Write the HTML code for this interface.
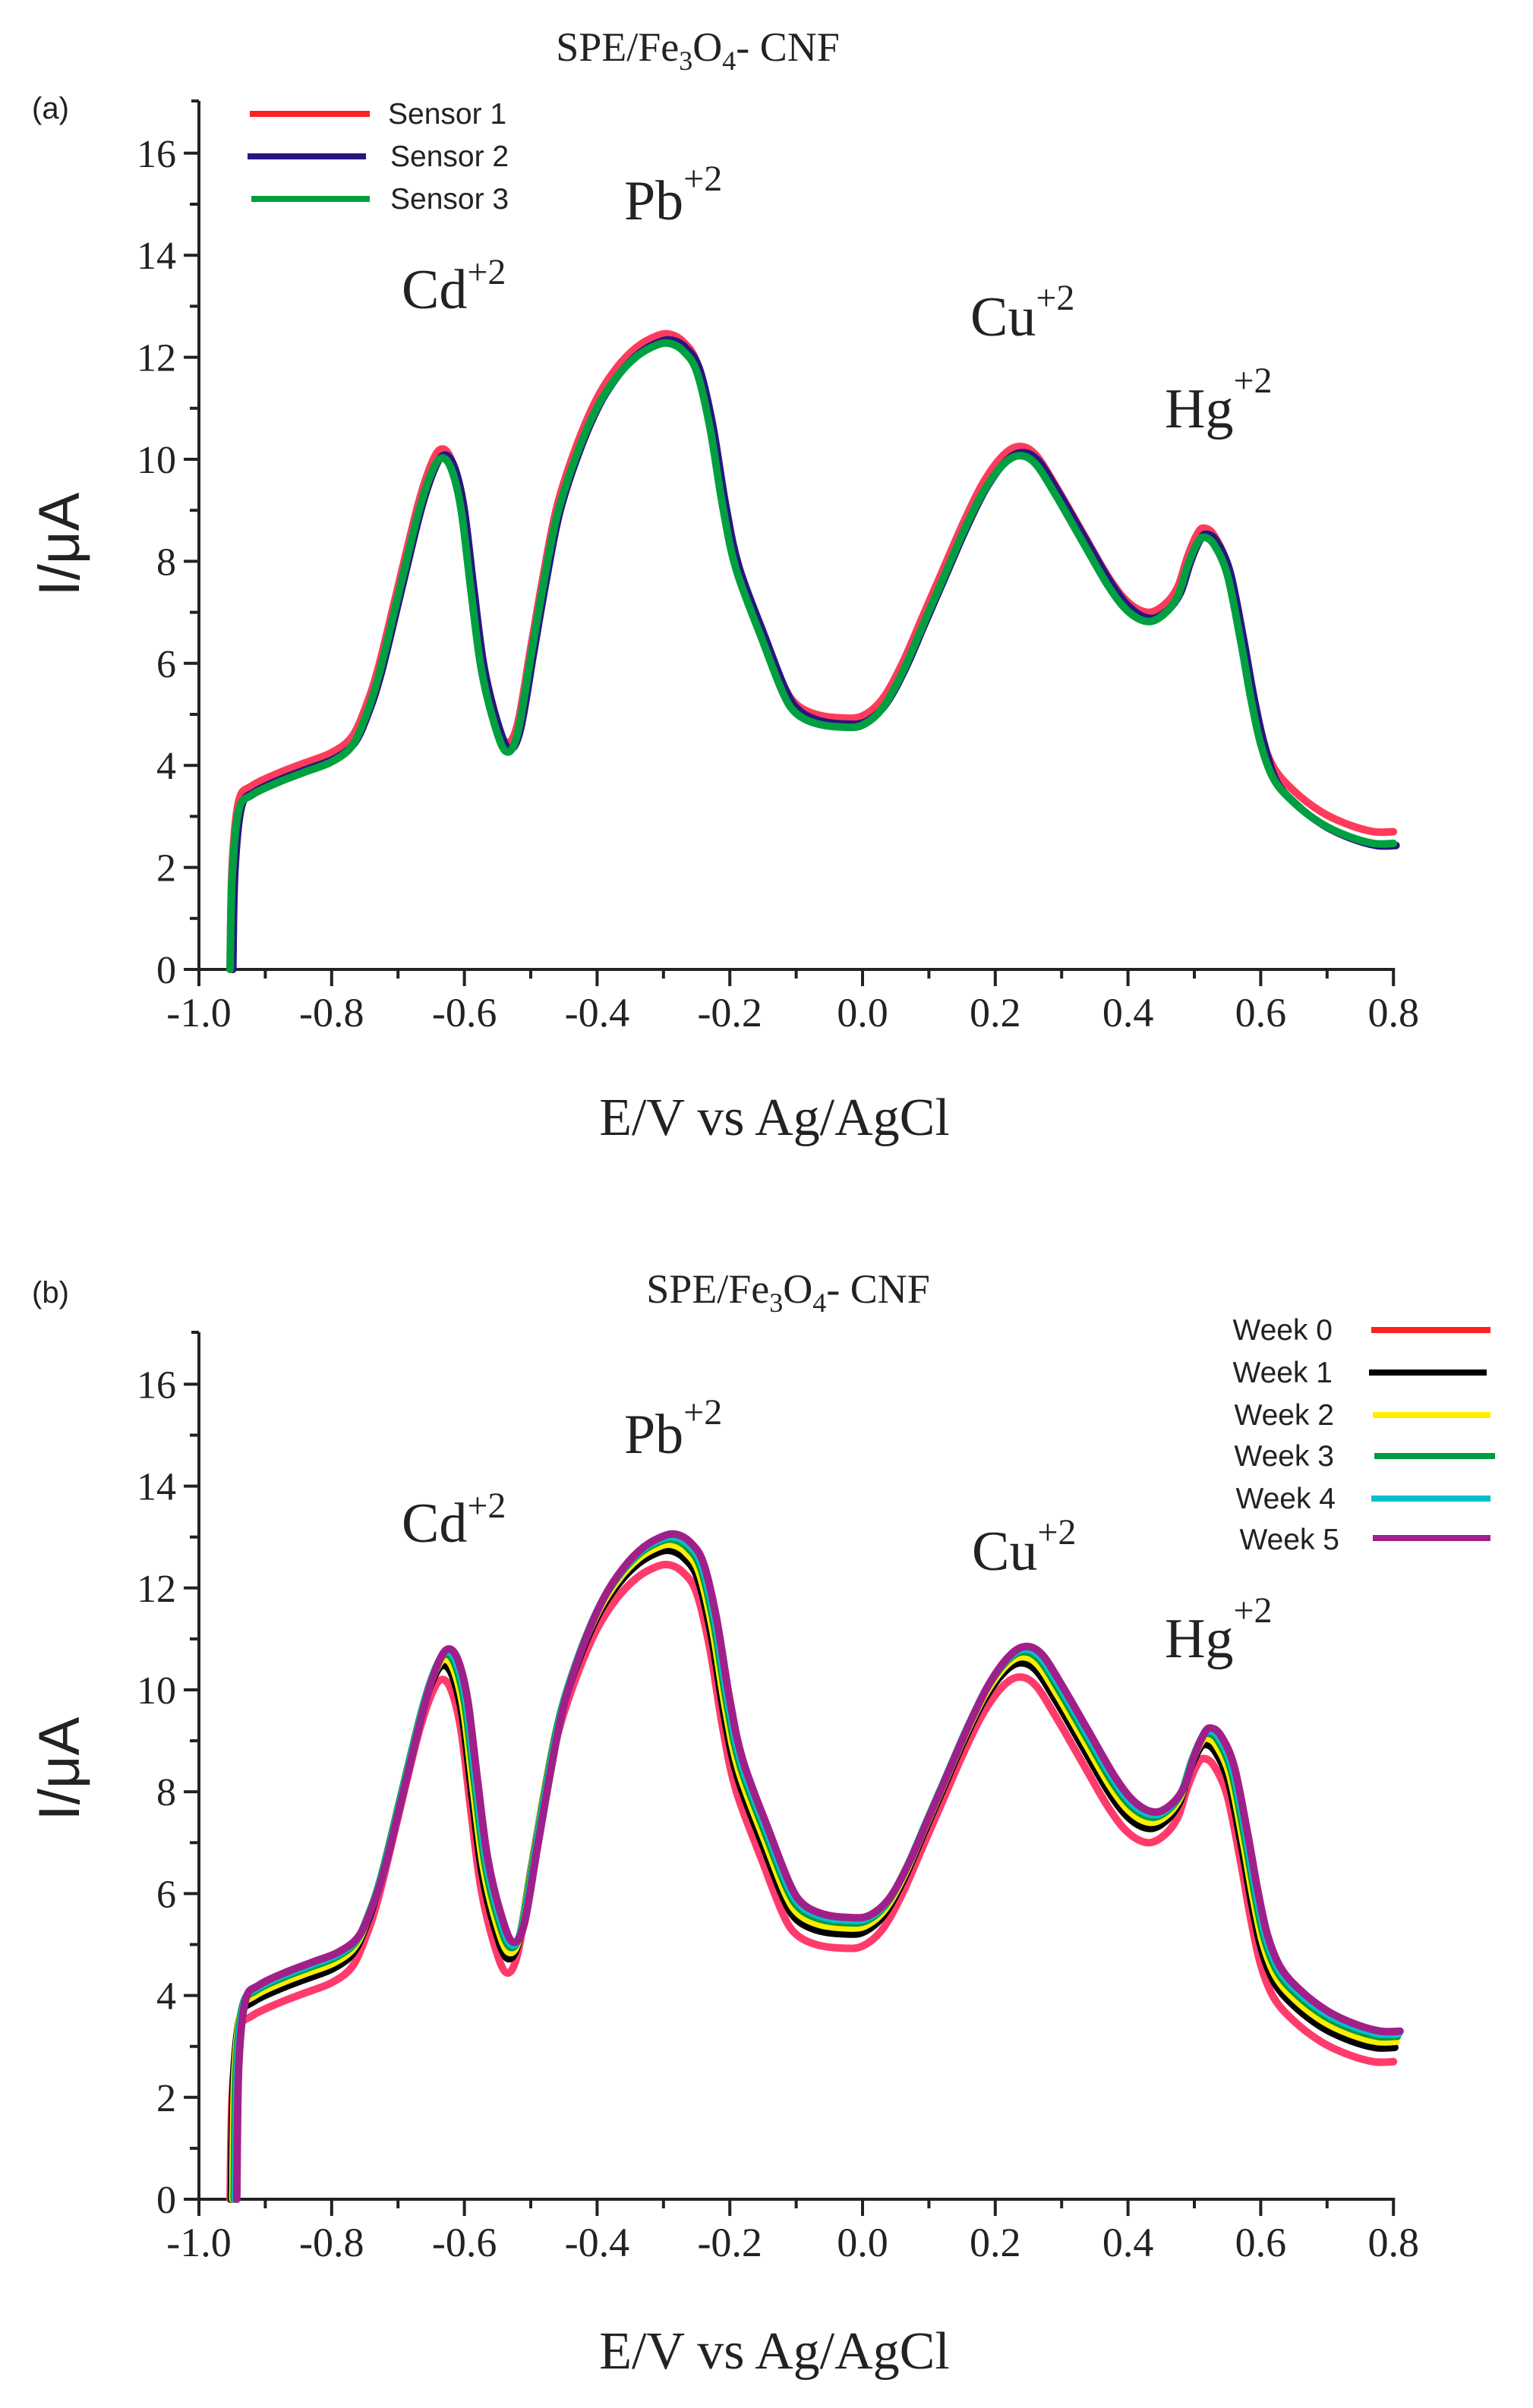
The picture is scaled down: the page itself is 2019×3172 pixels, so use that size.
<!DOCTYPE html>
<html><head><meta charset="utf-8"><style>
html,body{margin:0;padding:0;background:#fff}
svg{display:block}
.serif{font-family:"Liberation Serif",serif;fill:#222}
.sans{font-family:"Liberation Sans",sans-serif;fill:#222}
</style></head><body>
<svg id="s" width="2019" height="3172" viewBox="0 0 2019 3172" xmlns="http://www.w3.org/2000/svg">
<rect width="2019" height="3172" fill="#fff"/>
<!-- Panel a texts -->
<text class="serif" x="919" y="80" font-size="54" text-anchor="middle">SPE/Fe<tspan font-size="36" dy="12">3</tspan><tspan dy="-12">O</tspan><tspan font-size="36" dy="12">4</tspan><tspan dy="-12">- CNF</tspan></text>
<text class="sans" x="42" y="156" font-size="40">(a)</text>
<text class="serif" x="1020" y="1495" font-size="70" text-anchor="middle">E/V vs Ag/AgCl</text>
<text class="sans" x="0" y="0" font-size="76" text-anchor="middle" transform="translate(104,717) rotate(-90)">I/μA</text>
<text class="serif" x="529" y="406" font-size="74">Cd<tspan font-size="48" dy="-32">+2</tspan></text>
<text class="serif" x="822" y="289" font-size="74">Pb<tspan font-size="48" dy="-38">+2</tspan></text>
<text class="serif" x="1278" y="442" font-size="74">Cu<tspan font-size="48" dy="-34">+2</tspan></text>
<text class="serif" x="1534" y="563" font-size="74">Hg<tspan font-size="48" dy="-46">+2</tspan></text>
<!-- legend a -->
<line x1="329" y1="150" x2="487" y2="150" stroke="#ff2020" stroke-width="8"/>
<line x1="326" y1="206" x2="482" y2="206" stroke="#2a1580" stroke-width="8"/>
<line x1="331" y1="262" x2="487" y2="262" stroke="#00a040" stroke-width="8"/>
<text class="sans" x="511" y="163" font-size="39">Sensor 1</text>
<text class="sans" x="514" y="219" font-size="39">Sensor 2</text>
<text class="sans" x="514" y="275" font-size="39">Sensor 3</text>

<!-- Panel b texts -->
<text class="serif" x="1038" y="1716" font-size="54" text-anchor="middle">SPE/Fe<tspan font-size="36" dy="12">3</tspan><tspan dy="-12">O</tspan><tspan font-size="36" dy="12">4</tspan><tspan dy="-12">- CNF</tspan></text>
<text class="sans" x="42" y="1716" font-size="40">(b)</text>
<text class="serif" x="1020" y="3120" font-size="70" text-anchor="middle">E/V vs Ag/AgCl</text>
<text class="sans" x="0" y="0" font-size="76" text-anchor="middle" transform="translate(104,2330) rotate(-90)">I/μA</text>
<text class="serif" x="529" y="2031" font-size="74">Cd<tspan font-size="48" dy="-32">+2</tspan></text>
<text class="serif" x="822" y="1914" font-size="74">Pb<tspan font-size="48" dy="-38">+2</tspan></text>
<text class="serif" x="1280" y="2068" font-size="74">Cu<tspan font-size="48" dy="-34">+2</tspan></text>
<text class="serif" x="1534" y="2183" font-size="74">Hg<tspan font-size="48" dy="-46">+2</tspan></text>
<!-- legend b -->
<text class="sans" x="1755" y="1765" font-size="39" text-anchor="end">Week 0</text>
<text class="sans" x="1755" y="1821" font-size="39" text-anchor="end">Week 1</text>
<text class="sans" x="1757" y="1877" font-size="39" text-anchor="end">Week 2</text>
<text class="sans" x="1757" y="1931" font-size="39" text-anchor="end">Week 3</text>
<text class="sans" x="1759" y="1987" font-size="39" text-anchor="end">Week 4</text>
<text class="sans" x="1764" y="2041" font-size="39" text-anchor="end">Week 5</text>
<line x1="1806" y1="1752" x2="1963" y2="1752" stroke="#ff2020" stroke-width="8"/>
<line x1="1803" y1="1808" x2="1958" y2="1808" stroke="#000" stroke-width="8"/>
<line x1="1808" y1="1864" x2="1963" y2="1864" stroke="#ffee00" stroke-width="8"/>
<line x1="1810" y1="1918" x2="1969" y2="1918" stroke="#009a40" stroke-width="8"/>
<line x1="1806" y1="1974" x2="1963" y2="1974" stroke="#00c0d0" stroke-width="8"/>
<line x1="1808" y1="2026" x2="1963" y2="2026" stroke="#a0208a" stroke-width="8"/>
<g id="g"></g>
</svg>
<script>
var NS="http://www.w3.org/2000/svg",g=document.getElementById('g');
function el(t,a,txt){var e=document.createElementNS(NS,t);for(var k in a)e.setAttribute(k,a[k]);if(txt!=null)e.textContent=txt;g.appendChild(e);return e;}
var X0=262,XS=874;
function X(e){return X0+(e+1)*XS;}
var base=[[-0.953,0],[-0.95,2],[-0.94,3.3],[-0.92,3.6],[-0.88,3.85],[-0.84,4.05],[-0.8,4.25],[-0.77,4.55],[-0.75,5.1],[-0.73,5.9],[-0.7,7.5],[-0.67,9.1],[-0.65,9.9],[-0.635,10.2],[-0.62,10.0],[-0.605,9.2],[-0.59,7.6],[-0.575,6.1],[-0.555,5.0],[-0.537,4.45],[-0.52,4.8],[-0.5,6.3],[-0.48,7.8],[-0.46,9.1],[-0.43,10.3],[-0.4,11.2],[-0.37,11.8],[-0.34,12.2],[-0.31,12.42],[-0.29,12.45],[-0.27,12.3],[-0.25,11.9],[-0.23,10.8],[-0.21,9.2],[-0.19,8.0],[-0.15,6.6],[-0.12,5.6],[-0.1,5.2],[-0.07,5.0],[-0.03,4.93],[0,4.97],[0.03,5.3],[0.06,6.0],[0.09,6.9],[0.12,7.8],[0.15,8.7],[0.18,9.5],[0.21,10.05],[0.235,10.25],[0.26,10.1],[0.29,9.5],[0.33,8.6],[0.37,7.7],[0.4,7.2],[0.43,7.0],[0.455,7.15],[0.475,7.5],[0.49,8.1],[0.505,8.55],[0.515,8.65],[0.53,8.5],[0.55,7.9],[0.57,6.6],[0.585,5.5],[0.6,4.6],[0.62,3.95],[0.65,3.5],[0.69,3.1],[0.73,2.85],[0.77,2.7],[0.8,2.7]];
function axes(y0,ys,top){
  el('line',{x1:X0,y1:top,x2:X0,y2:y0+16,stroke:'#222','stroke-width':4});
  el('line',{x1:X0-12,y1:y0,x2:X(0.8)+2,y2:y0,stroke:'#222','stroke-width':4});
  el('line',{x1:X0-10,y1:top,x2:X0,y2:top,stroke:'#222','stroke-width':4});
  for(var i=0;i<=16;i++){var y=y0-i*ys,maj=i%2==0;
    el('line',{x1:X0-(maj?20:12),y1:y,x2:X0,y2:y,stroke:'#222','stroke-width':4});
    if(maj)el('text',{x:X0-30,y:y+18,'font-size':52,'text-anchor':'end','class':'serif'},''+i);}
  for(var j=0;j<=18;j++){var e=-1+j*0.1,x=X(e),maj=j%2==0;
    el('line',{x1:x,y1:y0,x2:x,y2:y0+(maj?22:12),stroke:'#222','stroke-width':4});
    if(maj)el('text',{x:x,y:y0+75,'font-size':54,'text-anchor':'middle','class':'serif'},e.toFixed(1).replace('-0.0','0.0'));}
}
function smooth(P){var d='M'+P[0][0].toFixed(1)+','+P[0][1].toFixed(1);
  for(var i=0;i<P.length-1;i++){var p0=P[i-1]||P[i],p1=P[i],p2=P[i+1],p3=P[i+2]||p2;
    var c1x=p1[0]+(p2[0]-p0[0])/6,c1y=p1[1]+(p2[1]-p0[1])/6,c2x=p2[0]-(p3[0]-p1[0])/6,c2y=p2[1]-(p3[1]-p1[1])/6;
    d+=' C'+c1x.toFixed(1)+','+c1y.toFixed(1)+' '+c2x.toFixed(1)+','+c2y.toFixed(1)+' '+p2[0].toFixed(1)+','+p2[1].toFixed(1);}
  return d;}
function curve(y0,ys,f,dx,col){
  var P=base.map(function(p){var v=p[1]===0?0:f(p[0],p[1]);return [X(p[0]+dx),y0-v*ys];});
  el('path',{d:smooth(P),fill:'none',stroke:col,'stroke-width':10,'stroke-linejoin':'round','stroke-linecap':'round'});
}
var ya=1277,ysa=67.2;
axes(ya,ysa,133);
curve(ya,ysa,function(e,v){return v;},0,'#ff3b5c');
curve(ya,ysa,function(e,v){return v-0.12-(e>0.6?0.15:0);},0.004,'#2a1580');
curve(ya,ysa,function(e,v){return v-0.18-(e>0.6?0.05:0);},0.0,'#00a040');
var yb=2897,ysb=67.1;
axes(yb,ysb,1755);
var cols=['#ff3b6c','#000','#ffee00','#009a40','#00c0d0','#a0208a'];
var off=[0,0.28,0.4,0.5,0.55,0.6];
for(var k=0;k<6;k++)(function(k){curve(yb,ysb,function(e,v){return v+off[k];},k*0.002,cols[k]);})(k);
</script>
</body></html>
